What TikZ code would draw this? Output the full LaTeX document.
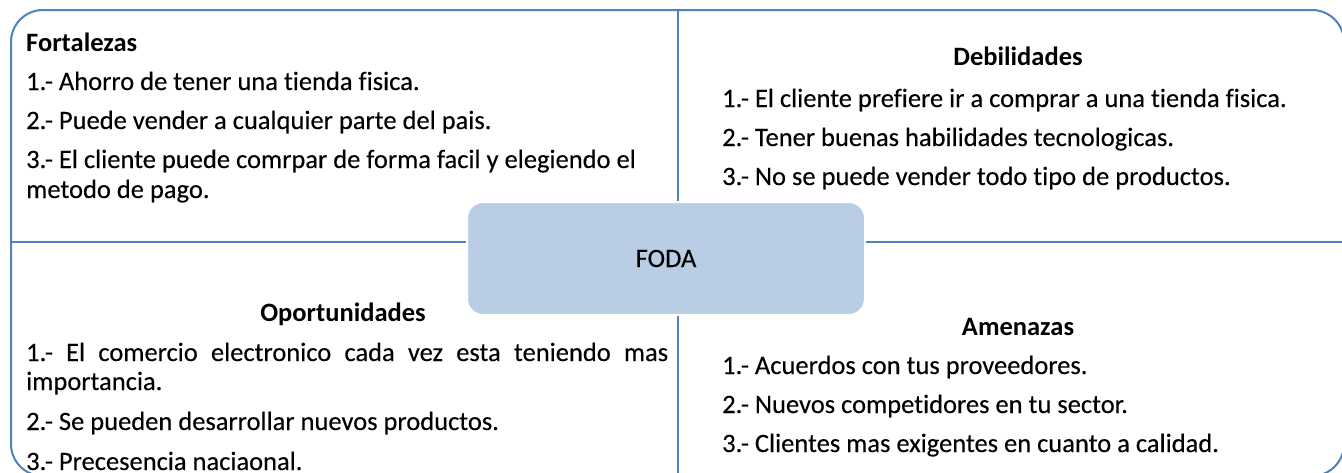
\documentclass[tikz,border=0pt]{standalone}
\usepackage{fontspec}
\setmainfont{Carlito}[Ligatures=NoCommon]
\newfontfamily\bodyfont{Carlito}[Ligatures=NoCommon,FakeBold=0.25]
\definecolor{frameblue}{HTML}{4F81BD}
\definecolor{fodafill}{HTML}{B9CDE5}
\begin{document}
\begin{tikzpicture}[x=1pt,y=-1pt,
  txt/.style={anchor=base west,inner sep=0pt,font=\bodyfont\fontsize{26.5}{30}\selectfont,text=black},
  hdr/.style={anchor=base,inner sep=0pt,font=\fontsize{26.5}{30}\selectfont\bfseries,text=black},
  hdrw/.style={anchor=base west,inner sep=0pt,font=\fontsize{26.5}{30}\selectfont\bfseries,text=black},
  frame/.style={draw=frameblue,line width=2pt}]
\useasboundingbox (0,0) rectangle (1342,472);
\clip (0,0) rectangle (1342,472);
% frame
\draw[frame,rounded corners=32pt] (11,10) rectangle (1344,476);
\coordinate (top) at (678,10);
\coordinate (bot) at (678,476);
\coordinate (lft) at (11,242);
\coordinate (rgt) at (1344,242);
\draw[frame] (top) -- (bot);
\draw[frame] (lft) -- (rgt);
% center
\node[draw=white,line width=2pt,fill=fodafill,rounded corners=16pt,minimum width=398pt,minimum height=113pt] (foda) at (666,258.5) {};
\node[txt,anchor=base] (fodat) at (666,267) {FODA};
% Fortalezas
\node[hdrw] (fh) at (26,51) {Fortalezas};
\node[txt] (f1) at (26,90) {1.- Ahorro de tener una tienda fisica.};
\node[txt] (f2) at (26,129) {2.- Puede vender a cualquier parte del pais.};
\node[txt] (f3) at (26,168) {3.- El cliente puede comrpar de forma facil y elegiendo el};
\node[txt] (f3b) at (26,198) {metodo de pago.};
% Debilidades
\node[hdr] (dh) at (1018,65) {Debilidades};
\node[txt] (d1) at (722,107) {1.- El cliente prefiere ir a comprar a una tienda fisica.};
\node[txt] (d2) at (722,146) {2.- Tener buenas habilidades tecnologicas.};
\node[txt] (d3) at (722,185) {3.- No se puede vender todo tipo de productos.};
% Oportunidades
\node[hdr] (oh) at (343,321) {Oportunidades};
\node[txt] (o1) at (26,361) {\makebox[642pt][s]{1.- El comercio electronico cada vez esta teniendo mas}};
\node[txt] (o1b) at (26,390) {importancia.};
\node[txt] (o2) at (26,430) {2.- Se pueden desarrollar nuevos productos.};
\node[txt] (o3) at (26,470) {3.- Precesencia naciaonal.};
% Amenazas
\node[hdr] (ah) at (1018,335) {Amenazas};
\node[txt] (a1) at (722,374) {1.- Acuerdos con tus proveedores.};
\node[txt] (a2) at (722,413) {2.- Nuevos competidores en tu sector.};
\node[txt] (a3) at (722,452) {3.- Clientes mas exigentes en cuanto a calidad.};
\end{tikzpicture}
\end{document}
